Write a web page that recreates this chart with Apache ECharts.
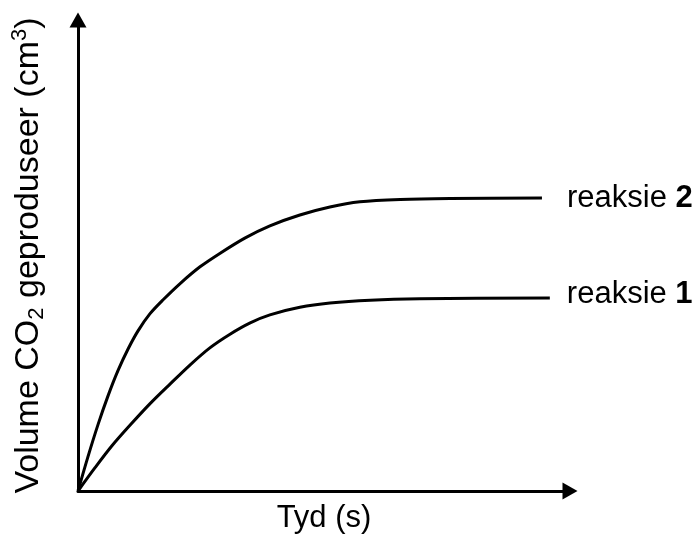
<!DOCTYPE html>
<html>
<head>
<meta charset="utf-8">
<script src="https://cdn.jsdelivr.net/npm/echarts@6/dist/echarts.min.js"></script>
<style>
  html, body { margin: 0; background: #fff; }
  #chart { width: 697px; height: 534px; }
</style>
</head>
<body>
<div id="chart"></div>
<script>
// tyd en volume (arbitrêre eenhede, 0-100 langs elke as)
const tydReaksie2 = [0, 2.0, 4.1, 6.1, 8.1, 10.2, 12.2, 14.6, 17.3, 20.7, 24.8, 28.9, 33.9, 39.0, 45.1, 51.2, 57.3, 65.5, 75.6, 94.3]
const volReaksie2 = [0, 7.2, 14.2, 20.2, 25.5, 30.2, 34.0, 37.6, 40.6, 44.0, 47.6, 50.5, 53.7, 56.3, 58.6, 60.3, 61.4, 61.9, 62.1, 62.2]

const tydReaksie1 = [0, 3.5, 6.9, 10.6, 14.6, 18.7, 22.8, 26.8, 30.9, 35.0, 39.0, 45.1, 51.2, 59.4, 69.5, 95.9]
const volReaksie1 = [0, 5.0, 9.6, 14.0, 18.5, 22.7, 26.8, 30.4, 33.3, 35.7, 37.4, 39.0, 39.9, 40.5, 40.8, 41.0]

const reeksNaam = 'reaksie'
const reeksNommers = ['1', '2']

const font = 'Liberation Sans, Arial, sans-serif'

const pairs = (xs, ys) => xs.map((x, i) => [x, ys[i]])

const chart = echarts.init(document.getElementById('chart'))

const axisLine = {
  show: true,
  symbol: ['none', 'triangle'],
  symbolSize: [17, 15],
  lineStyle: { color: '#000', width: 3 },
}

const lineSeries = (nommer, data, distance, dy) => ({
  name: reeksNaam + ' ' + nommer,
  type: 'line',
  data,
  smooth: 0.3,
  showSymbol: false,
  silent: true,
  lineStyle: { color: '#000', width: 3 },
  endLabel: {
    show: true,
    distance,
    offset: [0, dy],
    formatter: () => `${reeksNaam} {b|${nommer}}`,
    color: '#000',
    fontFamily: font,
    fontSize: 31,
    rich: {
      b: { fontFamily: font, fontSize: 31, fontWeight: 'bold', color: '#000' },
    },
  },
})

chart.setOption({
  animation: false,
  grid: { left: 78, right: 127, top: 20, bottom: 43, outerBoundsMode: 'none' },
  xAxis: {
    type: 'value',
    min: 0,
    max: 100,
    name: 'Tyd (s)',
    nameLocation: 'middle',
    nameGap: 12,
    nameTextStyle: { color: '#000', fontFamily: font, fontSize: 31, verticalAlign: 'top' },
    axisLine,
    axisTick: { show: false },
    axisLabel: { show: false },
    splitLine: { show: false },
  },
  yAxis: {
    type: 'value',
    min: 0,
    max: 100,
    name: 'Volume CO{sub|2} geproduseer (cm{sup|3})',
    nameLocation: 'middle',
    nameGap: 30,
    nameTextStyle: {
      color: '#000',
      fontFamily: font,
      fontSize: 34,
      lineHeight: 39,
      rich: {
        sub: { fontFamily: font, fontSize: 22, lineHeight: 22, verticalAlign: 'bottom', color: '#000' },
        sup: { fontFamily: font, fontSize: 22, lineHeight: 22, verticalAlign: 'top', color: '#000' },
      },
    },
    axisLine,
    axisTick: { show: false },
    axisLabel: { show: false },
    splitLine: { show: false },
  },
  series: [
    lineSeries(reeksNommers[0], pairs(tydReaksie1, volReaksie1), 17, -3),
    lineSeries(reeksNommers[1], pairs(tydReaksie2, volReaksie2), 25, 0),
  ],
})
</script>
</body>
</html>
